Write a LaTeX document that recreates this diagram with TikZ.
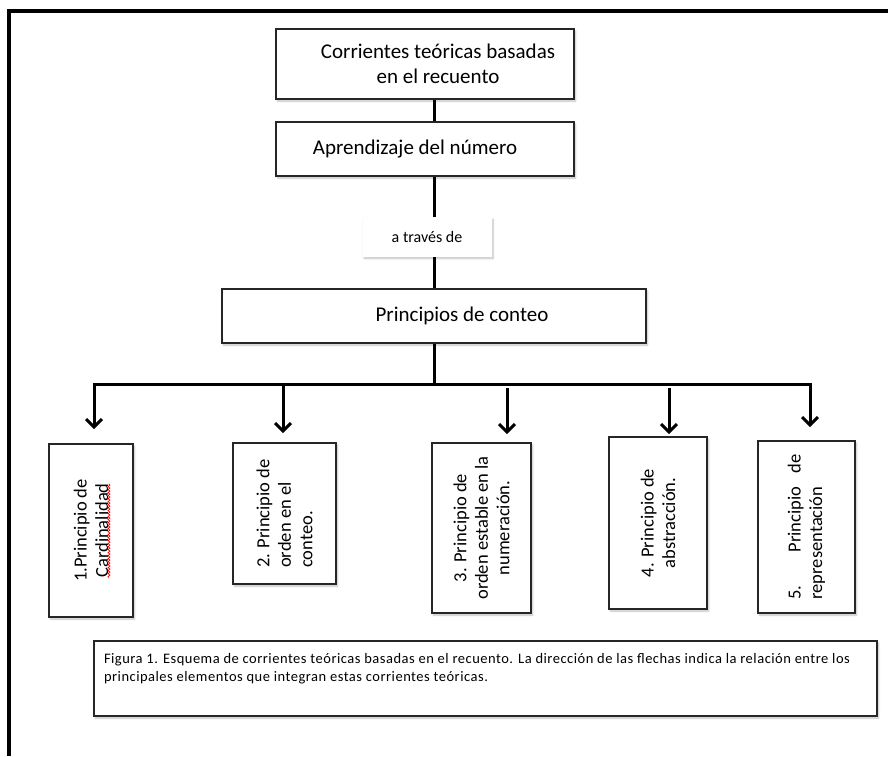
\documentclass[tikz,border=0pt]{standalone}
\usepackage{fontspec}
\setmainfont{Carlito}
\usetikzlibrary{arrows.meta,shadows.blur,decorations.pathmorphing}

\begin{document}
\begin{tikzpicture}[x=1pt, y=-1pt,
	caja/.style={draw=black!85, line width=1.6pt, fill=white, inner sep=0pt,
		blur shadow={shadow xshift=1.5pt, shadow yshift=-2pt, shadow blur steps=6, shadow opacity=25}},
	titulo/.style={caja, font=\fontsize{21}{25}\selectfont, align=center},
	principio/.style={caja, rotate=90, font=\fontsize{18.5}{21.5}\selectfont},
	linea/.style={line width=3pt},
	flecha/.style={line width=3pt, -{Straight Barb[length=8pt, width=16pt]}},
	onda/.style={red, line width=0.7pt, decorate, decoration={snake, amplitude=1pt, segment length=3pt}}]

	\useasboundingbox (0,0) rectangle (888,756);
	\draw[line width=3.5pt] (9,756) -- (9,11) -- (888,11);

	\node[titulo, minimum width=298pt, minimum height=70pt] (corrientes) at (425,64) {\hspace*{26pt}Corrientes teóricas basadas\\ \hspace*{26pt}en el recuento};
	\node[titulo, minimum width=298pt, minimum height=54pt] (aprendizaje) at (425,149) {\hspace*{-20pt}Aprendizaje del número};
	\node[caja, draw=none, minimum width=129pt, minimum height=39pt, font=\fontsize{16}{19}\selectfont] (atraves) at (427,237) {a través de};
	\node[titulo, minimum width=424pt, minimum height=54pt] (conteo) at (434,316) {\hspace*{56pt}Principios de conteo};

	\node[principio, minimum width=173pt, minimum height=84pt, align=center] (p1) at (91,530.5) {1.Principio de\\ Cardinalidad};
	\node[principio, minimum width=141pt, minimum height=103pt, align=left] (p2) at (284.5,513.5) {2. Principio de\\ orden en el\\ conteo.};
	\node[principio, minimum width=170pt, minimum height=99pt, align=center] (p3) at (481.5,528) {3. Principio de\\ orden estable en la\\ numeración.};
	\node[principio, minimum width=172pt, minimum height=98pt, align=center] (p4) at (658,523) {4. Principio de\\ abstracción.};
	\node[principio, minimum width=172pt, minimum height=97pt, align=left] (p5) at (806.5,527) {\makebox[145pt][s]{5. Principio de}\\ representación};

	\node[caja, line width=1.3pt, minimum width=783pt, minimum height=75pt] (pie) at (485.5,678.5) {\parbox[c][51pt][t]{763pt}{\fontsize{14.5}{18.5}\selectfont\addfontfeature{LetterSpace=3.5}Figura 1. Esquema de corrientes teóricas basadas en el recuento. La dirección de las flechas indica la relación entre los\\ principales elementos que integran estas corrientes teóricas.}};

	\draw[onda] ([xshift=18pt, yshift=-47pt]p1.center) -- ([xshift=18pt, yshift=47pt]p1.center);

	\coordinate (b1) at (94,384);
	\coordinate (b2) at (283,384);
	\coordinate (b3) at (507,384);
	\coordinate (b4) at (669,384);
	\coordinate (b5) at (810,384);

	\draw[linea] (corrientes.south -| conteo) -- (aprendizaje.north -| conteo);
	\draw[linea] (aprendizaje.south -| conteo) -- (atraves.north -| conteo);
	\draw[linea] (atraves.south -| conteo) -- (conteo.north);
	\draw[linea] (conteo.south) -- (conteo.south |- b1);

	\draw[line width=3pt, {Straight Barb[length=8pt, width=16pt]}-{Straight Barb[length=8pt, width=16pt]}, shorten <=14pt, shorten >=13pt] (p1.east -| b1) -- (b1) -- (b5) -- (p5.east -| b5);
	\draw[flecha, shorten >=9pt] (b2) -- (b2 |- p2.east);
	\draw[flecha, shorten >=8pt] ([yshift=-4pt]b3) -- (b3 |- p3.east);
	\draw[flecha, shorten >=2pt] ([yshift=-4pt]b4) -- (b4 |- p4.east);

\end{tikzpicture}
\end{document}
